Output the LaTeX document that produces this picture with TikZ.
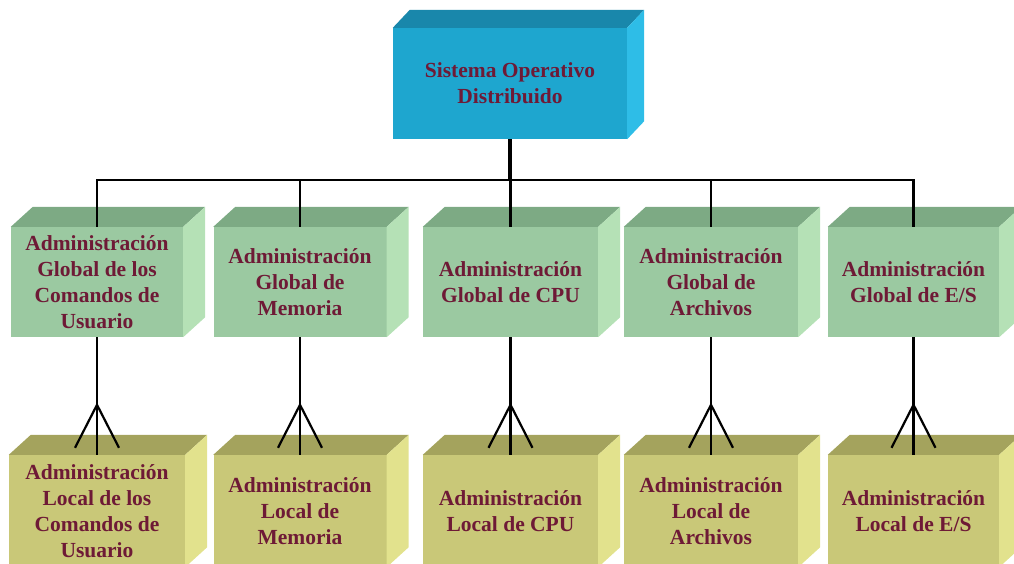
\documentclass[tikz,border=0pt]{standalone}
\usepackage{fontspec}
\setmainfont{Liberation Serif}
\usetikzlibrary{calc}
\definecolor{cyanF}{HTML}{1EA6CF}
\definecolor{cyanT}{HTML}{1987AB}
\definecolor{cyanR}{HTML}{2EBDE7}
\definecolor{greenF}{HTML}{9BC9A1}
\definecolor{greenT}{HTML}{7DAA84}
\definecolor{greenR}{HTML}{B5E1B6}
\definecolor{yelF}{HTML}{C9C878}
\definecolor{yelT}{HTML}{A4A35D}
\definecolor{yelR}{HTML}{E2E28D}
\definecolor{txtc}{HTML}{6E1A36}
\tikzset{
  boxtext/.style={font=\bfseries\fontsize{21.5}{25.8}\selectfont, text=txtc, align=center, inner sep=0pt},
  front/.style={boxtext, rectangle, fill=#1},
  link/.style={line width=2.2pt, black},
  stem/.style={line width=4.5pt, black},
}
% \cubebox{name}{x}{y}{w}{h}{front}{top}{right}{text}
\newcommand\cubebox[9]{%
  \node[front=#6, minimum width=#4pt, minimum height=#5pt] (#1) at (#2,#3) {#9};
  \fill[#7] (#1.north west) -- (#1.north east) -- ++(\cdx,-\cdy) -- ($(#1.north west)+(\cdx,-\cdy)$) -- cycle;
  \fill[#8] (#1.north east) -- ++(\cdx,-\cdy) -- ($(#1.south east)+(\cdx,-\cdy)$) -- (#1.south east) -- cycle;
}
\begin{document}
\begin{tikzpicture}[x=1pt,y=-1pt]
\useasboundingbox (0,0) rectangle (1014,564);
\clip (0,0) rectangle (1014,564);
% top box
\def\cdx{17}\def\cdy{18}
\cubebox{so}{510}{83.5}{234}{111}{cyanF}{cyanT}{cyanR}{Sistema Operativo\\Distribuido}
% global row
\def\cdx{22}\def\cdy{20}
\cubebox{g1}{97}{282}{172}{110}{greenF}{greenT}{greenR}{Administración\\Global de los\\Comandos de\\Usuario}
\cubebox{g2}{300}{282}{173}{110}{greenF}{greenT}{greenR}{Administración\\Global de\\Memoria}
\cubebox{g3}{510.5}{282}{175}{110}{greenF}{greenT}{greenR}{Administración\\Global de CPU}
\cubebox{g4}{711}{282}{174}{110}{greenF}{greenT}{greenR}{Administración\\Global de\\Archivos}
\cubebox{g5}{913.5}{282}{171}{110}{greenF}{greenT}{greenR}{Administración\\Global de E/S}
% local row
\cubebox{l1}{97}{511}{176}{112}{yelF}{yelT}{yelR}{Administración\\Local de los\\Comandos de\\Usuario}
\cubebox{l2}{300}{511}{173}{112}{yelF}{yelT}{yelR}{Administración\\Local de\\Memoria}
\cubebox{l3}{510.5}{511}{175}{112}{yelF}{yelT}{yelR}{Administración\\Local de CPU}
\cubebox{l4}{711}{511}{174}{112}{yelF}{yelT}{yelR}{Administración\\Local de\\Archivos}
\cubebox{l5}{913.5}{511}{171}{112}{yelF}{yelT}{yelR}{Administración\\Local de E/S}
% connectors
\coordinate (bus) at (510,180);
\draw[stem] (so.south) -- (so.south |- bus);
\draw[link] ([xshift=-1pt]g1.north |- bus) -- ([xshift=1pt]g5.north |- bus);
\foreach \i in {1,...,5}{
  \draw[link] (g\i.north |- bus) -- (g\i.north);
  \draw[link] (g\i.south) -- (l\i.north);
  \draw[link] ($(l\i.north)+(0,-50)$) -- ($(l\i.north)+(-22,-7)$);
  \draw[link] ($(l\i.north)+(0,-50)$) -- ($(l\i.north)+(22,-7)$);
}
\end{tikzpicture}
\end{document}
